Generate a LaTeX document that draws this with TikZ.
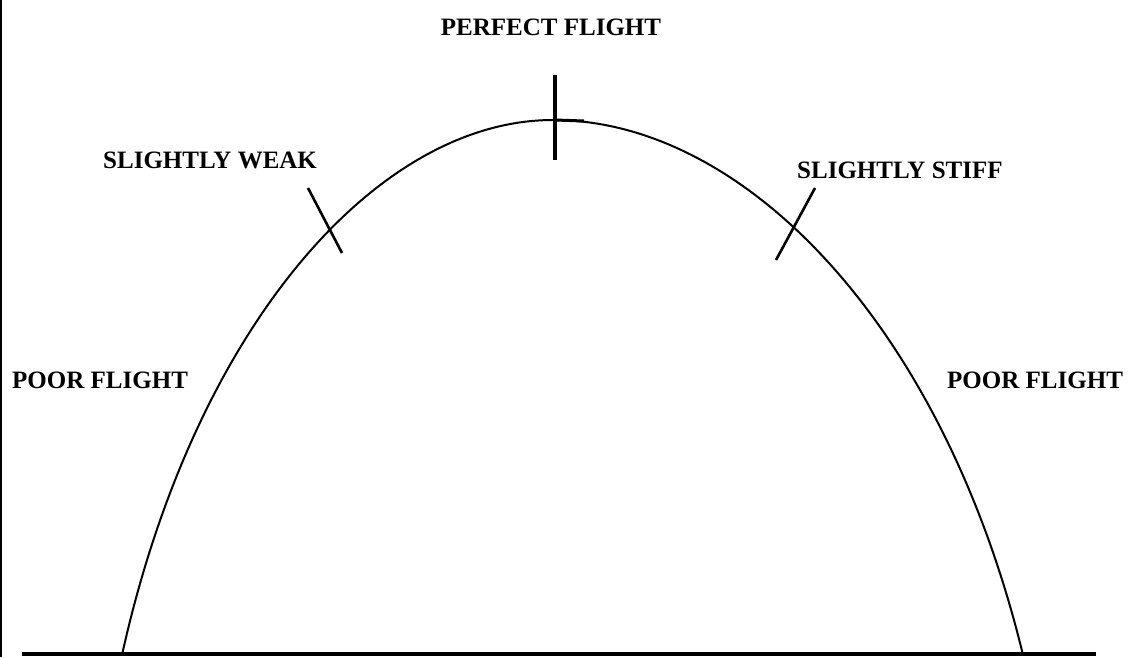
\documentclass[tikz,border=0pt]{standalone}
\usepackage{fontspec}
\setmainfont{Liberation Serif}
\tikzset{
  flightlabel/.style={font=\fontsize{25}{30}\selectfont\bfseries, inner sep=0pt},
  arch/.style={line width=2pt, line join=round},
  tickmark/.style={line width=2.6pt},
}
\begin{document}
\begin{tikzpicture}[x=1pt, y=-1pt]
    \def\picwidth{1135}
    \def\picheight{657}
    \useasboundingbox (0,0) rectangle (\picwidth,\picheight);

    % Draw the frame edge and the ground line
    \draw[line width=2pt] (1,0) -- (1,\picheight);
    \draw[line width=4pt] (22,654) -- (1096,654);

    % Draw the arch
    \coordinate (leftfoot) at (122,655);
    \coordinate (apex) at (553,120);
    \coordinate (rightfoot) at (1023,655);
    \draw[arch] (leftfoot) .. controls (195,325) and (378,120) .. (apex)
                .. controls (744,120) and (943,325) .. (rightfoot);

    % Marks on the arch
    \draw[tickmark] (308,188) -- (342,253);
    \draw[tickmark] (815,188) -- (776,260);
    \draw[line width=3.5pt] (555,75) -- (555,160);
    \draw[line width=3pt] (555,120) -- (584,121);

    \node[flightlabel] (perfect) at (551,27) {PERFECT FLIGHT};
    \node[flightlabel, anchor=west] (weak) at (103,160) {SLIGHTLY WEAK};
    \node[flightlabel, anchor=west] (stiff) at (797,170) {SLIGHTLY STIFF};
    \node[flightlabel, anchor=west] (poorleft) at (12,380) {POOR FLIGHT};
    \node[flightlabel, anchor=west] (poorright) at (947,380) {POOR FLIGHT};
\end{tikzpicture}
\end{document}
